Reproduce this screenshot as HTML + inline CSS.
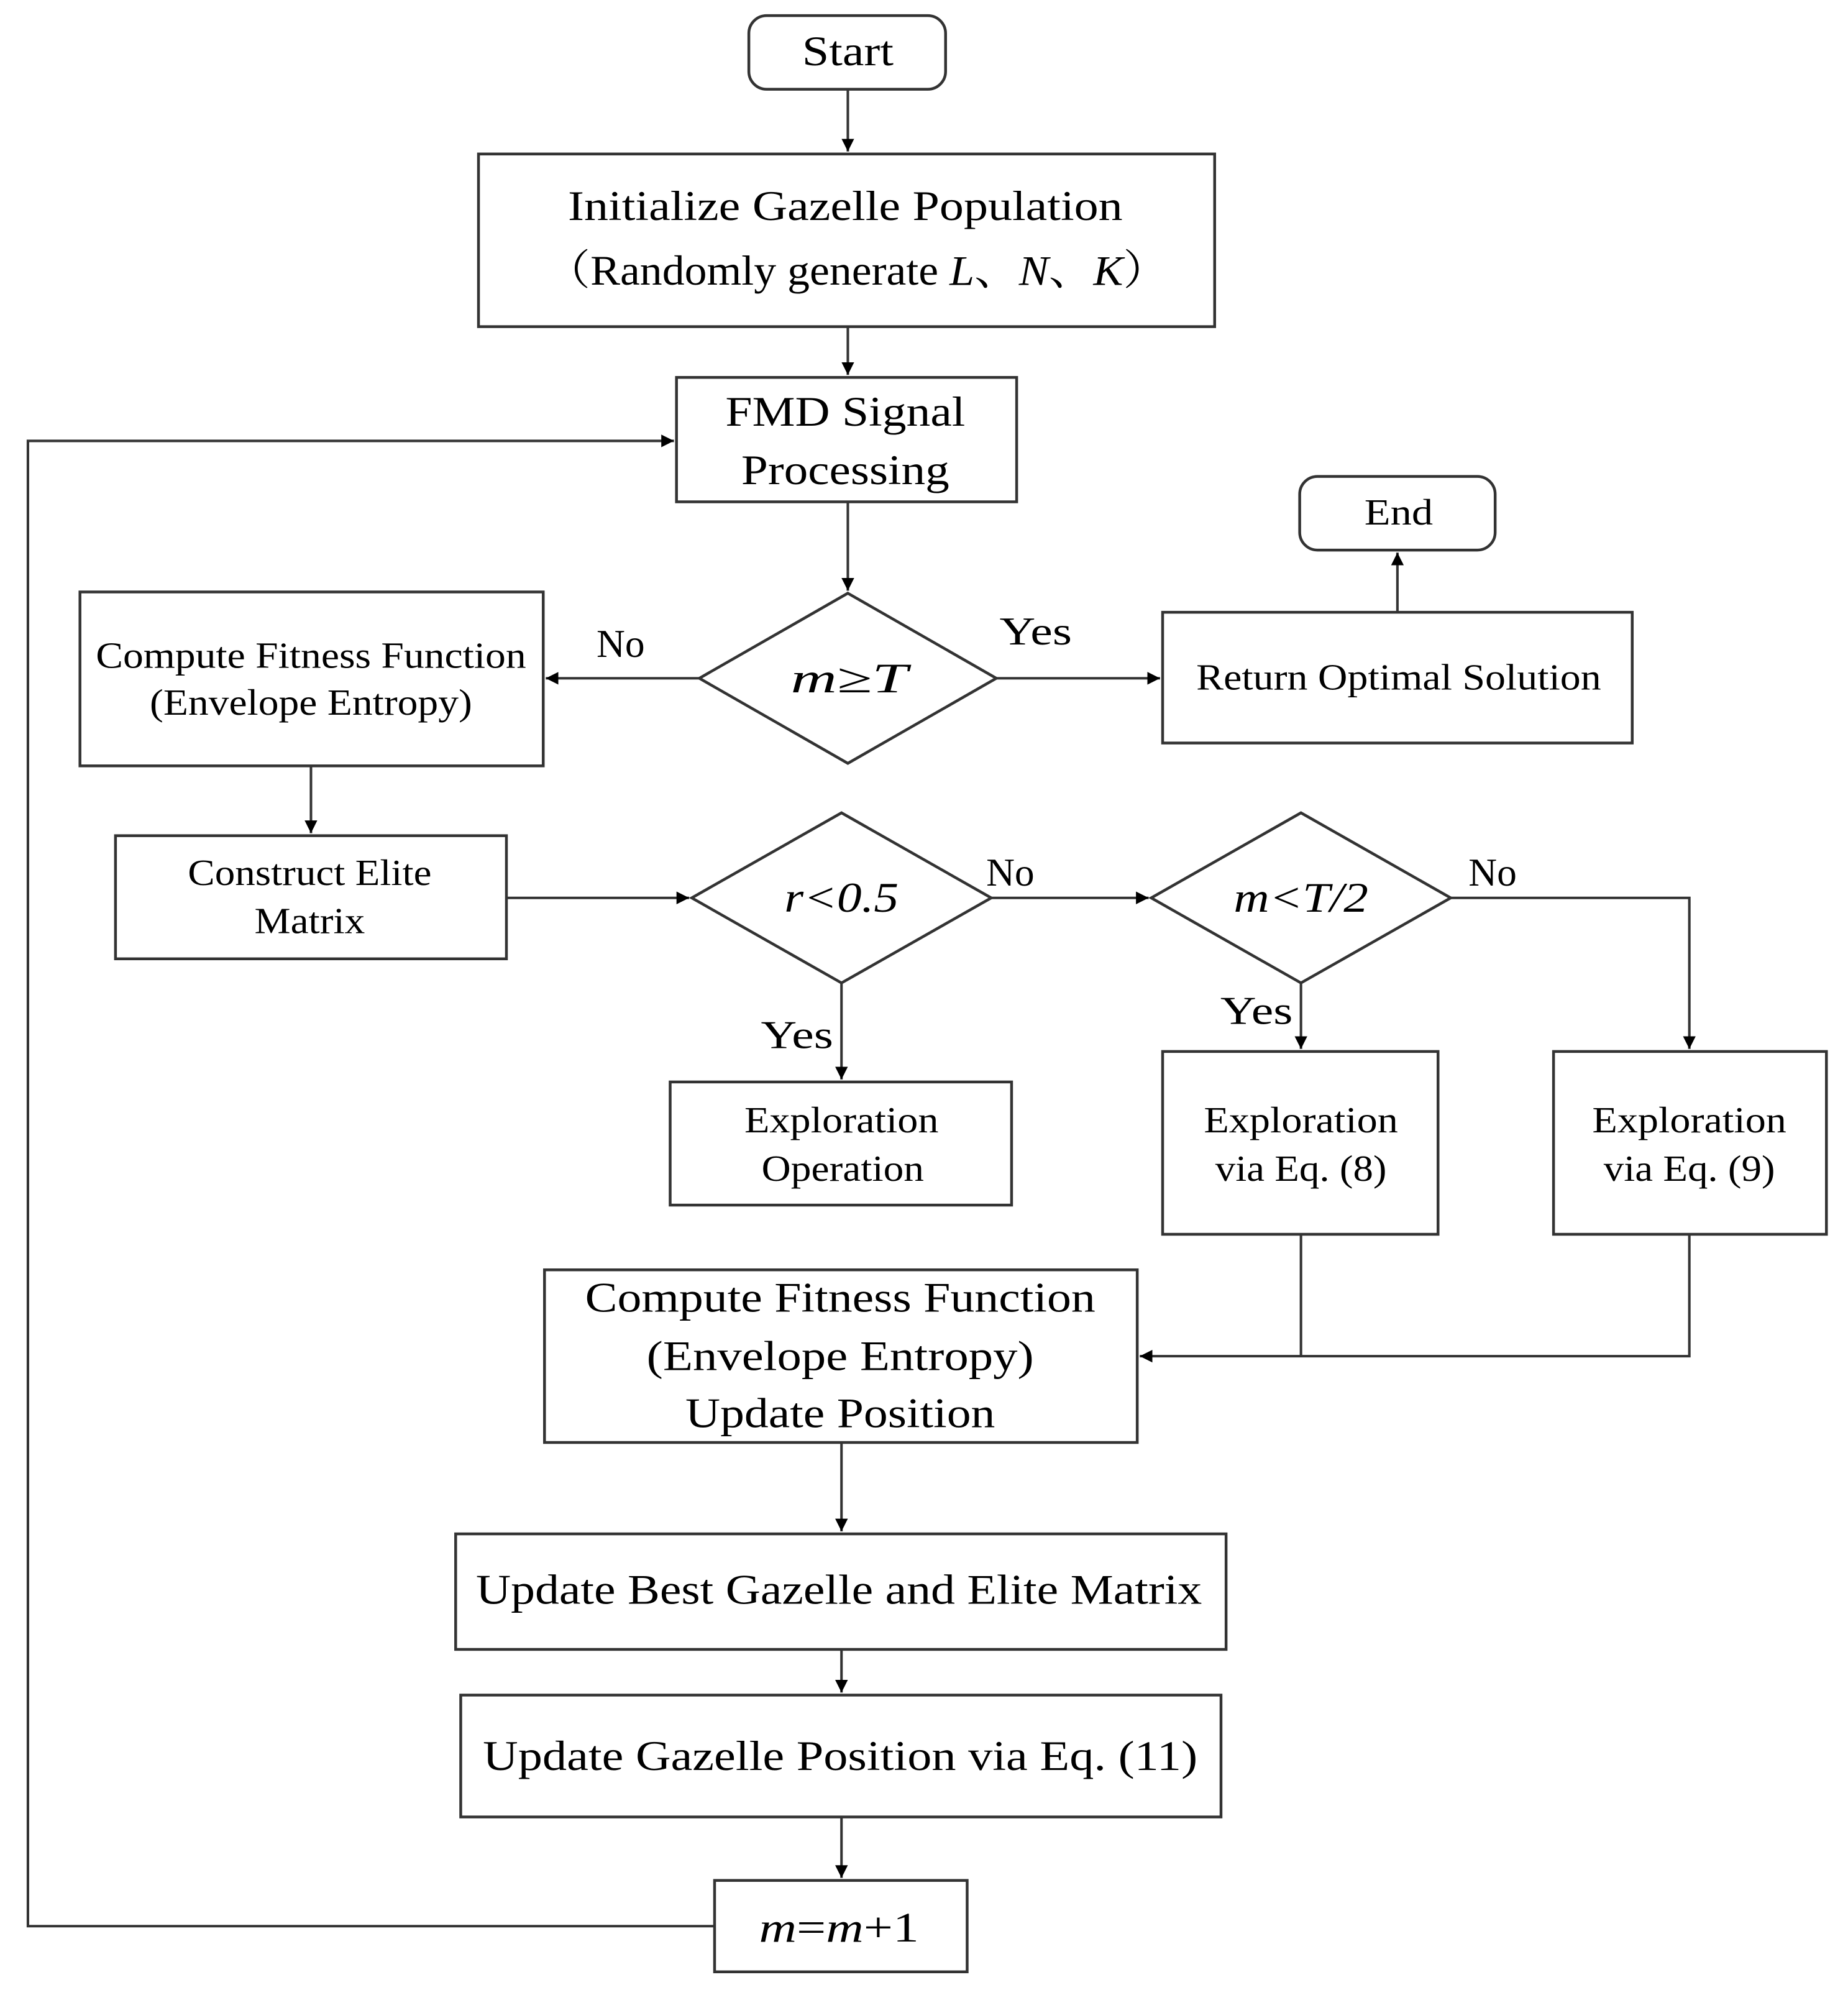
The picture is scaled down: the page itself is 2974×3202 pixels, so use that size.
<!DOCTYPE html>
<html><head><meta charset="utf-8"><style>
html,body{margin:0;padding:0;background:#fff}
svg{display:block}
text{font-family:"Liberation Serif","Noto Serif CJK SC",serif;fill:#000;text-anchor:middle;dominant-baseline:central}
</style></head><body>
<svg width="2974" height="3202" viewBox="0 0 1456 1567" xmlns="http://www.w3.org/2000/svg">
<defs><marker id="a" markerWidth="12" markerHeight="12" refX="10" refY="5" orient="auto" markerUnits="userSpaceOnUse"><path d="M0,0 L10,5 L0,10 Z" fill="#000"/></marker></defs>
<g fill="none" stroke="#333" stroke-width="2.2">
<rect x="590" y="12" width="155" height="58" rx="14"/>
<rect x="377" y="121" width="580" height="136"/>
<rect x="533" y="297" width="268" height="98"/>
<polygon points="668,467 785,534 668,601 551,534"/>
<rect x="916" y="482" width="370" height="103"/>
<rect x="1024" y="375" width="154" height="58" rx="14"/>
<rect x="63" y="466" width="365" height="137"/>
<rect x="91" y="658" width="308" height="97"/>
<polygon points="663,640 781,707 663,774 545,707"/>
<polygon points="1025,640 1143,707 1025,774 907,707"/>
<rect x="528" y="852" width="269" height="97"/>
<rect x="916" y="828" width="217" height="144"/>
<rect x="1224" y="828" width="215" height="144"/>
<rect x="429" y="1000" width="467" height="136"/>
<rect x="359" y="1208" width="607" height="91"/>
<rect x="363" y="1335" width="599" height="96"/>
<rect x="563" y="1481" width="199" height="72"/>
</g>
<g fill="none" stroke="#333" stroke-width="2" marker-end="url(#a)">
<path d="M668,70 V119"/>
<path d="M668,257 V295"/>
<path d="M668,395 V465"/>
<path d="M551,534 H430"/>
<path d="M785,534 H914"/>
<path d="M1101,482 V435"/>
<path d="M245,603 V656"/>
<path d="M399,707 H543"/>
<path d="M781,707 H905"/>
<path d="M1143,707 H1331 V826"/>
<path d="M1025,774 V826"/>
<path d="M663,774 V850"/>
<path d="M1331,972 V1068 H898"/>
<path d="M663,1136 V1206"/>
<path d="M663,1299 V1333"/>
<path d="M663,1431 V1479"/>
<path d="M563,1517 H22 V347 H531"/>
</g>
<path d="M1025,972 V1068" stroke="#333" stroke-width="2" fill="none"/>
<g font-size="33" lengthAdjust="spacingAndGlyphs">
<text x="668" y="40" textLength="72" lengthAdjust="spacingAndGlyphs">Start</text>
<text x="666" y="162" textLength="437" lengthAdjust="spacingAndGlyphs">Initialize Gazelle Population</text>
<text x="675" y="213" textLength="490" lengthAdjust="spacingAndGlyphs">（Randomly generate <tspan font-style="italic">L</tspan>、<tspan font-style="italic">N</tspan>、<tspan font-style="italic">K</tspan>）</text>
<text x="666" y="324" textLength="189" lengthAdjust="spacingAndGlyphs">FMD Signal</text>
<text x="666" y="370" textLength="164" lengthAdjust="spacingAndGlyphs">Processing</text>
<text x="669" y="534" font-style="italic" textLength="92" lengthAdjust="spacingAndGlyphs">m≥T</text>
<text x="663" y="707" font-style="italic" textLength="90" lengthAdjust="spacingAndGlyphs">r&lt;0.5</text>
<text x="1025" y="707" font-style="italic" textLength="106" lengthAdjust="spacingAndGlyphs">m&lt;T/2</text>
<text x="662" y="1022" textLength="402" lengthAdjust="spacingAndGlyphs">Compute Fitness Function</text>
<text x="662" y="1068" textLength="305" lengthAdjust="spacingAndGlyphs">(Envelope Entropy)</text>
<text x="662" y="1113" textLength="244" lengthAdjust="spacingAndGlyphs">Update Position</text>
<text x="661" y="1252" textLength="572" lengthAdjust="spacingAndGlyphs">Update Best Gazelle and Elite Matrix</text>
<text x="662" y="1383" textLength="563" lengthAdjust="spacingAndGlyphs">Update Gazelle Position via Eq. (11)</text>
<text x="661" y="1518" textLength="126" lengthAdjust="spacingAndGlyphs"><tspan font-style="italic">m</tspan>=<tspan font-style="italic">m</tspan>+1</text>
</g>
<g font-size="29">
<text x="1102" y="403" textLength="54" lengthAdjust="spacingAndGlyphs">End</text>
<text x="1102" y="533" textLength="319" lengthAdjust="spacingAndGlyphs">Return Optimal Solution</text>
<text x="245" y="516" textLength="339" lengthAdjust="spacingAndGlyphs">Compute Fitness Function</text>
<text x="245" y="553" textLength="254" lengthAdjust="spacingAndGlyphs">(Envelope Entropy)</text>
<text x="244" y="687" textLength="192" lengthAdjust="spacingAndGlyphs">Construct Elite</text>
<text x="244" y="725" textLength="87" lengthAdjust="spacingAndGlyphs">Matrix</text>
<text x="663" y="882" textLength="153" lengthAdjust="spacingAndGlyphs">Exploration</text>
<text x="664" y="920" textLength="128" lengthAdjust="spacingAndGlyphs">Operation</text>
<text x="1025" y="882" textLength="153" lengthAdjust="spacingAndGlyphs">Exploration</text>
<text x="1025" y="920" textLength="135" lengthAdjust="spacingAndGlyphs">via Eq. (8)</text>
<text x="1331" y="882" textLength="153" lengthAdjust="spacingAndGlyphs">Exploration</text>
<text x="1331" y="920" textLength="135" lengthAdjust="spacingAndGlyphs">via Eq. (9)</text>
</g>
<g font-size="31" font-family="Liberation Mono">
<text x="489" y="507" textLength="38" lengthAdjust="spacingAndGlyphs">No</text>
<text x="816" y="497" textLength="57" lengthAdjust="spacingAndGlyphs">Yes</text>
<text x="796" y="687" textLength="38" lengthAdjust="spacingAndGlyphs">No</text>
<text x="1176" y="687" textLength="38" lengthAdjust="spacingAndGlyphs">No</text>
<text x="990" y="796" textLength="57" lengthAdjust="spacingAndGlyphs">Yes</text>
<text x="628" y="815" textLength="57" lengthAdjust="spacingAndGlyphs">Yes</text>
</g>
</svg>
</body></html>
